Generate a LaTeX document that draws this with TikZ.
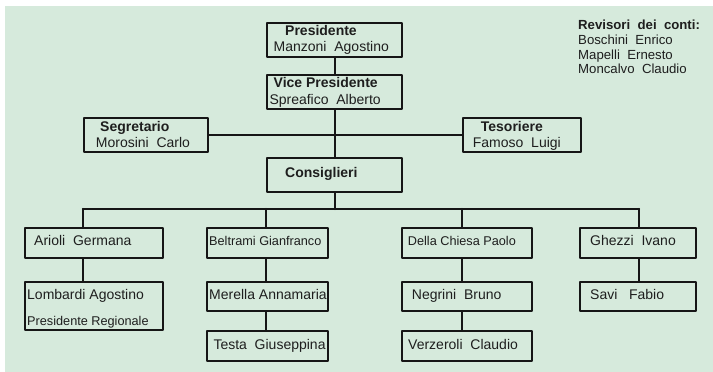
\documentclass[tikz,border=0pt]{standalone}
\usepackage{fontspec}
\setmainfont{Liberation Sans}
\definecolor{sfondo}{RGB}{214,234,220}
\definecolor{inchiostro}{RGB}{30,30,30}
\definecolor{bordo}{RGB}{22,22,22}
\begin{document}
\begin{tikzpicture}[x=1pt, y=-1pt, line join=round, line cap=round,
	box/.style={draw=bordo, line width=2.4pt, rectangle, inner sep=0pt, anchor=north west},
	link/.style={draw=bordo, line width=2.4pt},
	person/.style={anchor=base west, inner sep=0pt, text=inchiostro, font=\fontsize{14}{16}\selectfont},
	role/.style={person, font=\fontsize{14}{16}\selectfont\bfseries},
	smallperson/.style={person, font=\fontsize{12.7}{15}\selectfont},
	auditor/.style={person, font=\fontsize{13.2}{16}\selectfont}]
			\useasboundingbox (0,0) rectangle (713,372);
			\fill[sfondo] (5,6) rectangle (713,372);
			% caselle
			\foreach \n/\xa/\ya/\xb/\yb in {pres/266/22/401/56, vice/266/74/401/108,
				seg/83/117/207/151, tes/462/117/580/151, cons/266/157/401/191,
				ari/24/227/162/257, bel/206/227/327/257, del/401/227/531/257, ghe/579/227/695/257,
				lom/24/281/162/329, mer/206/281/327/310, neg/401/281/531/310, sav/579/281/695/310,
				tst/206/330/327/360, ver/401/330/531/360}
			\node[box, minimum width={\xb-\xa}, minimum height={\yb-\ya}] (\n) at (\xa,\ya) {};
			% testi
			\node[role] (pres-r) at ([shift={(19,13.3)}]pres.north west) {Presidente};
			\node[person] (pres-p) at ([shift={(7.5,30)}]pres.north west) {Manzoni\ \ Agostino};
			\node[role] (vice-r) at ([shift={(7.5,13)}]vice.north west) {Vice Presidente};
			\node[person] (vice-p) at ([shift={(3.3,30)}]vice.north west) {Spreafico\ \ Alberto};
			\node[role] (seg-r) at ([shift={(17,14.5)}]seg.north west) {Segretario};
			\node[person] (seg-p) at ([shift={(12.7,30)}]seg.north west) {Morosini\ \ Carlo};
			\node[role] (tes-r) at ([shift={(18.7,14.5)}]tes.north west) {Tesoriere};
			\node[person] (tes-p) at ([shift={(10.7,30)}]tes.north west) {Famoso\ \ Luigi};
			\node[role] (cons-r) at ([shift={(19,20)}]cons.north west) {Consiglieri};
			\node[person] (ari-p) at ([shift={(10,18)}]ari.north west) {Arioli\ \ Germana};
			\node[smallperson] (bel-p) at ([shift={(3,18.5)}]bel.north west) {Beltrami Gianfranco};
			\node[smallperson] (del-p) at ([shift={(6.7,18.5)}]del.north west) {Della Chiesa Paolo};
			\node[person] (ghe-p) at ([shift={(11,18)}]ghe.north west) {Ghezzi\ \ Ivano};
			\node[person] (lom-p) at ([shift={(3,18.5)}]lom.north west) {Lombardi Agostino};
			\node[smallperson] (lom-r) at ([shift={(3,44)}]lom.north west) {Presidente Regionale};
			\node[person] (mer-p) at ([shift={(3,18.5)}]mer.north west) {Merella Annamaria};
			\node[person] (neg-p) at ([shift={(10.7,18.5)}]neg.north west) {Negrini\ \ Bruno};
			\node[person] (sav-p) at ([shift={(11,18.5)}]sav.north west) {Savi\ \ \ Fabio};
			\node[person] (tst-p) at ([shift={(7.3,19)}]tst.north west) {Testa\ \ Giuseppina};
			\node[person] (ver-p) at ([shift={(7,19)}]ver.north west) {Verzeroli\ \ Claudio};
			% revisori
			\node[auditor, font=\fontsize{13.2}{16}\selectfont\bfseries] (rev) at (578,30) {Revisori\ \ dei\ \ conti:};
			\node[auditor] (rev1) at (578,44.5) {Boschini\ \ Enrico};
			\node[auditor] (rev2) at (578,59) {Mapelli\ \ Ernesto};
			\node[auditor] (rev3) at (578,73.5) {Moncalvo\ \ Claudio};
			% collegamenti
			\path (83,209) coordinate (b1) (266,209) coordinate (b2)
			(462,209) coordinate (b3) (639,209) coordinate (b4);
			\draw[link] (pres) -- (vice) (vice) -- (cons) (seg) -- (tes);
			\draw[link] (cons) -- (cons |- b1) (b1) -- (b4);
			\foreach \b/\u/\v in {b1/ari/lom, b2/bel/mer, b3/del/neg, b4/ghe/sav}
			\draw[link] (\b) -- (\b |- \u.north) (\b |- \u.south) -- (\b |- \v.north);
			\draw[link] (b2 |- mer.south) -- (b2 |- tst.north) (b3 |- neg.south) -- (b3 |- ver.north);
		\end{tikzpicture}
\end{document}
